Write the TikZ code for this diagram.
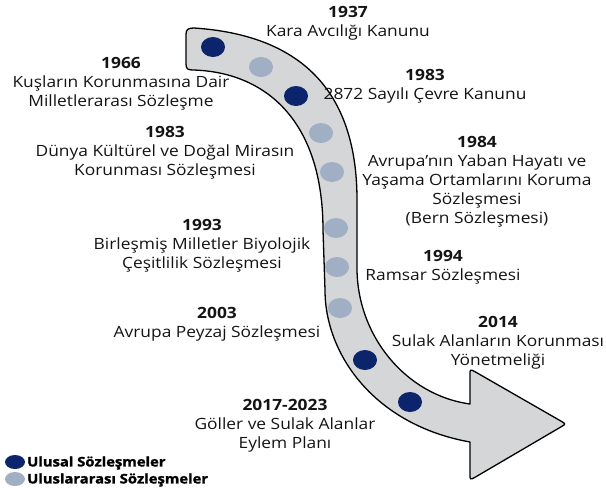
\documentclass[tikz,border=0pt]{standalone}
\usepackage{fontspec}
\setmainfont{Open Sans}[FakeStretch=1.12]
\newfontfamily\legfont{Open Sans}[FakeStretch=1.12,BoldFeatures={FakeBold=1.5}]
\definecolor{navy}{RGB}{12,36,107}
\definecolor{lightdot}{RGB}{160,175,195}
\definecolor{bandgray}{RGB}{212,214,216}
\definecolor{txtcol}{RGB}{20,20,20}
\begin{document}
\begin{tikzpicture}[x=1pt,y=-1pt,
  band/.style={fill=bandgray,draw=black,line width=1.3pt,line join=round},
  natdot/.style={fill=navy,draw=none},
  intdot/.style={fill=lightdot,draw=none},
  entry/.style={anchor=north,align=center,inner sep=0pt,text=txtcol,font=\fontsize{15.5}{19}\selectfont},
  legtext/.style={anchor=west,inner sep=0pt,text=black,font=\legfont\fontsize{13.2}{15}\selectfont\bfseries}]
\useasboundingbox (0,0) rectangle (606,488);
\clip (0,0) rectangle (606,488);
% curved arrow band
\path[band] (186,64) -- (186,34) .. controls (186,29) and (189,28) .. (194,28)
  .. controls (300,35) and (357,90) .. (357,200)
  -- (357,268)
  .. controls (357,335) and (405,395) .. (470,404)
  -- (470,375) .. controls (470,369) .. (475.5,372)
  -- (560.8,421) .. controls (566,424) .. (560.8,427)
  -- (475.5,477) .. controls (470,480) .. (470,474)
  -- (470,442)
  .. controls (375,425) and (325,355) .. (325,290)
  -- (323,230)
  .. controls (323,120) and (265,72) .. (193,70)
  .. controls (188,70) and (186,69) .. (186,64) -- cycle;
% dots
\fill[natdot] (213,47) ellipse [x radius=12, y radius=10];
\fill[intdot] (261,67) ellipse [x radius=12, y radius=10];
\fill[natdot] (296,96) ellipse [x radius=12, y radius=10];
\fill[intdot] (321,133) ellipse [x radius=12, y radius=10];
\fill[intdot] (332,172) ellipse [x radius=12, y radius=10];
\fill[intdot] (336,228) ellipse [x radius=12, y radius=10];
\fill[intdot] (337,267) ellipse [x radius=12, y radius=10];
\fill[intdot] (340,308) ellipse [x radius=12, y radius=10];
\fill[natdot] (365,360) ellipse [x radius=12, y radius=10];
\fill[natdot] (410,402) ellipse [x radius=12, y radius=10];
% texts
\node[entry] (e1937) at (348,6) {\textbf{1937}\\Kara Avcılığı Kanunu};
\node[entry] (e1966) at (121,57) {\textbf{1966}\\Kuşların Korunmasına Dair\\Milletlerarası Sözleşme};
\node[entry] (e1983r) at (425,69) {\textbf{1983}\\2872 Sayılı Çevre Kanunu};
\node[entry] (e1983l) at (165,126) {\textbf{1983}\\Dünya Kültürel ve Doğal Mirasın\\Korunması Sözleşmesi};
\node[entry] (e1984) at (477,136) {\textbf{1984}\\Avrupa’nın Yaban Hayatı ve\\Yaşama Ortamlarını Koruma\\Sözleşmesi\\(Bern Sözleşmesi)};
\node[entry] (e1993) at (202,219) {\textbf{1993}\\Birleşmiş Milletler Biyolojik\\Çeşitlilik Sözleşmesi};
\node[entry] (e1994) at (443,250) {\textbf{1994}\\Ramsar Sözleşmesi};
\node[entry] (e2003) at (217,307) {\textbf{2003}\\Avrupa Peyzaj Sözleşmesi};
\node[entry] (e2014) at (498,316) {\textbf{2014}\\Sulak Alanların Korunması\\Yönetmeliği};
\node[entry] (e2017) at (285,399) {\textbf{2017-2023}\\Göller ve Sulak Alanlar\\Eylem Planı};
% legend
\fill[natdot] (15,462) ellipse [x radius=10, y radius=7];
\node[legtext] (lnat) at (27,463) {Ulusal Sözleşmeler};
\fill[intdot] (15,479) ellipse [x radius=10, y radius=7];
\node[legtext] (lint) at (27,480) {Uluslararası Sözleşmeler};
\end{tikzpicture}
\end{document}
